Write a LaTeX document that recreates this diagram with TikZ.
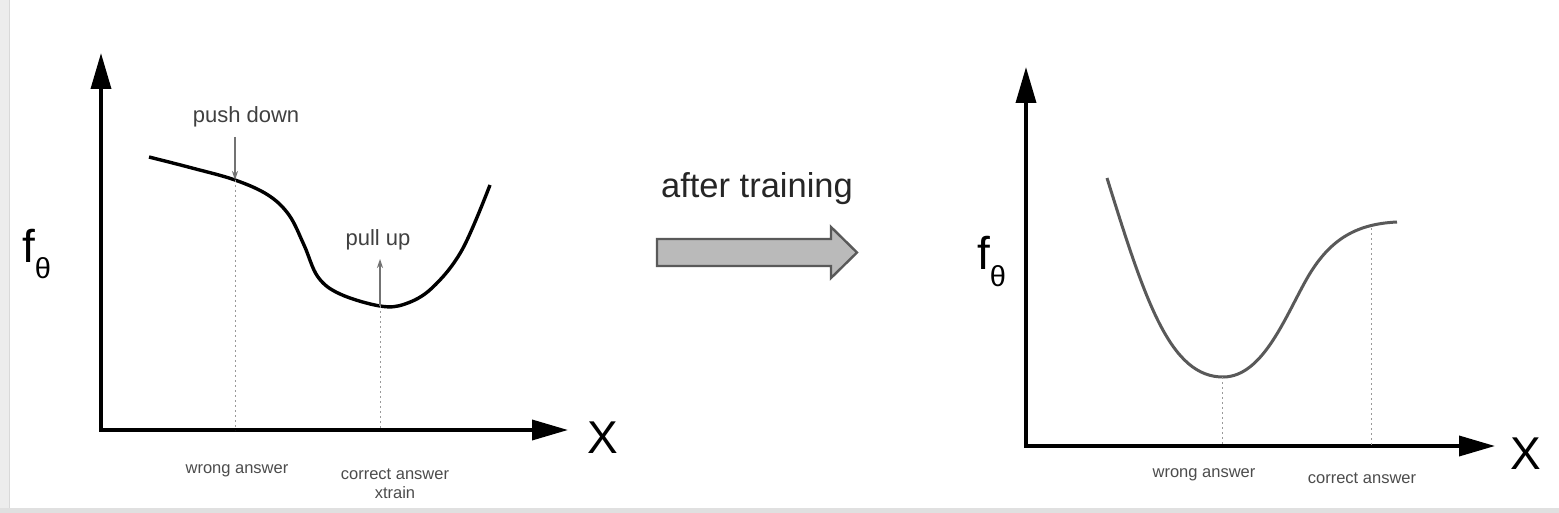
\documentclass[tikz,border=0pt]{standalone}
\usepackage{fontspec}
\setmainfont{Liberation Sans}
\usetikzlibrary{arrows.meta}
\begin{document}
\begin{tikzpicture}[x=1pt,y=-1pt,
  axis/.style={line width=3.6pt,-{Triangle[length=36pt,width=20pt]}},
  curveL/.style={line width=3.4pt,black},
  curveR/.style={line width=3pt,black!65},
  guide/.style={gray!80,line width=1pt,dash pattern=on 2pt off 3pt},
  hint/.style={black!55,line width=1.1pt,-{Stealth[length=9pt,width=6pt]}},
  small/.style={text=black!70,font=\fontsize{16.5}{19}\selectfont,inner sep=0pt},
  mid/.style={text=black!75,font=\fontsize{22}{24}\selectfont,inner sep=0pt},
  big/.style={font=\fontsize{46}{46}\selectfont,inner sep=0pt}]
\useasboundingbox (0,0) rectangle (1559,513);
\fill[white] (0,0) rectangle (1559,513);
\fill[black!7] (0,0) rectangle (9,513);
\draw[black!15,line width=1pt] (9,0) -- (9,508);
\fill[black!12] (0,508) rectangle (1559,513);

% ---------- left graph ----------
\coordinate (LO) at (101,430);
\coordinate (LY) at (101,53);
\coordinate (LX) at (568,430);
\draw[axis] (LO) -- (LY);
\draw[axis] ([xshift=-1.8pt]LO) -- (LX);
\node[big,anchor=center] (LXl) at (603,438) {X};
\node[big,anchor=base west] (Lf) at (22,262) {f\raisebox{-0.36em}{\fontsize{29}{29}\selectfont θ}};
\draw[curveL] plot[smooth,tension=0.6] coordinates {(149,157) (192,168) (235,180) (268,195) (289,215) (304,245) (318,277) (340,294) (380,306) (405,304) (432,288) (462,250) (490,185)};
\coordinate (Lw) at (235,180);
\coordinate (Lc) at (380,306);
\coordinate (Lw0) at (235,430);
\coordinate (Lc0) at (380,430);
\draw[guide] (Lw) -- (Lw0);
\draw[guide] (Lc) -- (Lc0);
\node[mid] (push) at (246,117) {push down};
\node[mid] (pull) at (378,240) {pull up};
\coordinate (pushS) at (235,137);
\coordinate (pullE) at (380,259);
\draw[hint] (pushS) -- (Lw);
\draw[hint] (Lc) -- (pullE);
\node[small] (Lwrong) at (237,471) {wrong answer};
\node[small,align=center] (Lcorr) at (395,484) {correct answer\\xtrain};

% ---------- arrow ----------
\node[font=\fontsize{34.5}{36}\selectfont,text=black!85,inner sep=0pt] (after) at (757,189) {after training};
\draw[fill=black!27,draw=black!65,line width=2.4pt,line join=miter]
  (657,239) -- (831,239) -- (831,227) -- (857,252.5) -- (831,278) -- (831,266) -- (657,266) -- cycle;

% ---------- right graph ----------
\coordinate (RO) at (1026,446);
\coordinate (RY) at (1026,67);
\coordinate (RX) at (1495,446);
\draw[axis] (RO) -- (RY);
\draw[axis] ([xshift=-1.8pt]RO) -- (RX);
\node[big,anchor=center] (RXl) at (1526,454) {X};
\node[big,anchor=base west] (Rf) at (977,270) {f\raisebox{-0.36em}{\fontsize{29}{29}\selectfont θ}};
\draw[curveR] (1107,178) .. controls (1145,300) and (1170,378) .. (1224,377)
  .. controls (1262,376) and (1284,320) .. (1305,282)
  .. controls (1328,240) and (1355,224) .. (1397,222);
\coordinate (Rw) at (1222,377);
\coordinate (Rc) at (1371,228);
\coordinate (Rw0) at (1222,446);
\coordinate (Rc0) at (1371,446);
\draw[guide] (Rw) -- (Rw0);
\draw[guide] (Rc) -- (Rc0);
\node[small] (Rwrong) at (1204,475) {wrong answer};
\node[small] (Rcorr) at (1362,478) {correct answer};
\end{tikzpicture}
\end{document}
